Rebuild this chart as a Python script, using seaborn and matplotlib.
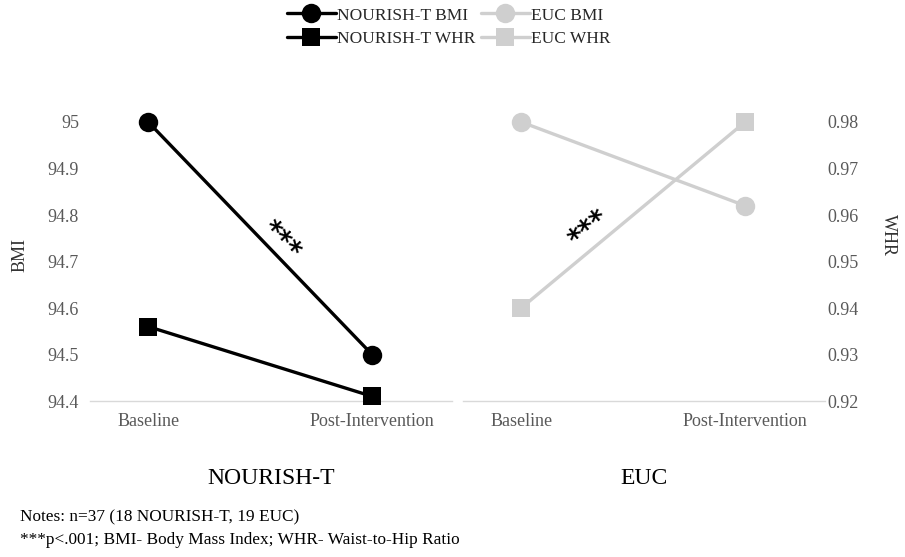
import matplotlib
matplotlib.use("Agg")
import matplotlib.pyplot as plt
from matplotlib.lines import Line2D
import seaborn as sns
import pandas as pd

# ---- data ----
timepoints = ["Baseline", "Post-Intervention"]
groups = ["NOURISH-T", "EUC"]
bmi_nourish = [95.0, 94.5]
whr_nourish = [0.936, 0.921]
bmi_euc = [95.0, 94.82]
whr_euc = [0.94, 0.98]
bmi_ticks = [94.4, 94.5, 94.6, 94.7, 94.8, 94.9, 95.0]
whr_ticks = [0.92, 0.93, 0.94, 0.95, 0.96, 0.97, 0.98]

sns.set_theme(style="white")
plt.rcParams["font.family"] = ["Liberation Serif", "DejaVu Serif"]

BLACK = "#000000"
GREY = "#CFCFCF"
TICK_GREY = "#595959"

fig = plt.figure(figsize=(9.05, 5.57), dpi=100)

panel_w = 362 / 905
bottom = (557 - 401) / 557
height = (401 - 122) / 557
lefts = [90 / 905, 463 / 905]

panels = [
    (groups[0], bmi_nourish, whr_nourish, BLACK),
    (groups[1], bmi_euc, whr_euc, GREY),
]

axes = []
for i, (name, bmi, whr, col) in enumerate(panels):
    ax = fig.add_axes([lefts[i], bottom, panel_w, height])
    tw = ax.twinx()
    df_b = pd.DataFrame({"t": [0, 1], "v": bmi})
    df_w = pd.DataFrame({"t": [0, 1], "v": whr})
    sns.lineplot(data=df_b, x="t", y="v", ax=ax, color=col, linewidth=2.4,
                 marker="o", markersize=14, markeredgewidth=0, clip_on=False)
    sns.lineplot(data=df_w, x="t", y="v", ax=tw, color=col, linewidth=2.4,
                 marker="s", markersize=12.5, markeredgewidth=0, clip_on=False)
    for a in (ax, tw):
        a.set_xlim(-0.26, 1.357)
        a.set_ylabel("")
        for s in a.spines.values():
            s.set_visible(False)
        a.tick_params(length=0)
    ax.spines["bottom"].set_visible(True)
    ax.spines["bottom"].set_color("#D9D9D9")
    ax.spines["bottom"].set_linewidth(1.0)
    ax.set_ylim(94.4, 95.0)
    tw.set_ylim(0.92, 0.98)
    ax.set_xticks([0, 1])
    ax.set_xticklabels(timepoints, fontsize=13, color=TICK_GREY)
    ax.tick_params(axis="x", pad=9)
    ax.set_xlabel(name, fontsize=17, color=BLACK, labelpad=27)
    ax.set_yticks(bmi_ticks)
    tw.set_yticks(whr_ticks)
    if i == 0:
        ax.set_yticklabels([f"{v:g}" for v in bmi_ticks], fontsize=13, color=TICK_GREY)
        ax.tick_params(axis="y", pad=8)
        tw.set_yticklabels([])
    else:
        ax.set_yticklabels([])
        tw.set_yticklabels([f"{v:.2f}" for v in whr_ticks], fontsize=13, color=TICK_GREY)
        tw.tick_params(axis="y", pad=2)
    axes.append((ax, tw))

# significance markers along the lines
ax0 = axes[0][0]
ax0.annotate("***", xy=(0.5, (bmi_nourish[0] + bmi_nourish[1]) / 2),
             xytext=(15, -2), textcoords="offset points", fontsize=20,
             rotation=-46, ha="center", va="center", color=BLACK,
             family="DejaVu Sans", fontweight="bold")
tw1 = axes[1][1]
t = 0.32
tw1.annotate("***", xy=(t, whr_euc[0] + t * (whr_euc[1] - whr_euc[0])),
             xytext=(-3, 14), textcoords="offset points", fontsize=20,
             rotation=40, ha="center", va="center", color=BLACK,
             family="DejaVu Sans", fontweight="bold")

# axis titles
fig.text(20 / 905, 1 - 255 / 557, "BMI", rotation=90, ha="center", va="center",
         fontsize=13, color="#333333")
fig.text(888 / 905, 1 - 235 / 557, "WHR", rotation=-90, ha="center", va="center",
         fontsize=13, color="#333333")

# legend
handles = [
    Line2D([], [], color=BLACK, lw=2.4, marker="o", markersize=14, markeredgewidth=0),
    Line2D([], [], color=BLACK, lw=2.4, marker="s", markersize=12.5, markeredgewidth=0),
    Line2D([], [], color=GREY, lw=2.4, marker="o", markersize=14, markeredgewidth=0),
    Line2D([], [], color=GREY, lw=2.4, marker="s", markersize=12.5, markeredgewidth=0),
]
labels = ["NOURISH-T BMI", "NOURISH-T WHR", "EUC BMI", "EUC WHR"]
fig.legend(handles, labels, loc="center", bbox_to_anchor=(449 / 905, 1 - 27 / 557),
           ncol=2, frameon=False, fontsize=12.5, handlelength=2.8,
           handletextpad=0.1, columnspacing=0.3, labelspacing=0.4,
           borderpad=0.1)

# notes
fig.text(20 / 905, 1 - 517 / 557, "Notes: n=37 (18 NOURISH-T, 19 EUC)",
         fontsize=12.4, ha="left", va="center", color=BLACK)
fig.text(20 / 905, 1 - 540 / 557,
         "***p<.001; BMI- Body Mass Index; WHR- Waist-to-Hip Ratio",
         fontsize=12.4, ha="left", va="center", color=BLACK)

fig.savefig("out.png", dpi=100, facecolor="white")
